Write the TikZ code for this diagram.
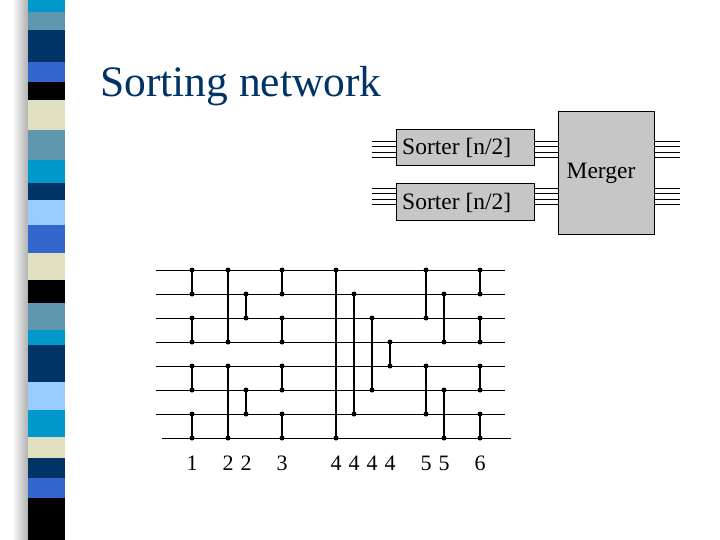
\documentclass[tikz,border=0pt]{standalone}
\usepackage{fontspec}
\setmainfont{Liberation Serif}
\begin{document}
\begin{tikzpicture}[x=1pt,y=-1pt,
  wire/.style={line width=0.9pt},
  comp/.style={line width=2.6pt},
  dot/.style={circle,fill,inner sep=0pt,minimum size=5pt},
  gbox/.style={draw,fill=gray!45,line width=0.6pt},
  thin/.style={line width=0.5pt}]
\useasboundingbox (0,0) rectangle (720,540);
\fill[white] (0,0) rectangle (720,540);
% stripe shadow
\shade[left color=white,right color=gray!70] (12,0) rectangle (30,540);
\definecolor{cC}{HTML}{0099CC}\definecolor{cS}{HTML}{5F97AF}
\definecolor{cN}{HTML}{003366}\definecolor{cB}{HTML}{3366CC}
\definecolor{cE}{HTML}{E0E0C0}\definecolor{cL}{HTML}{99CCFF}
\foreach \a/\b/\c in {0/12/cC,12/30/cS,30/62/cN,62/82/cB,82/100/black,100/130/cE,130/160/cS,160/183/cC,183/200/cN,200/225/cL,225/253/cB,253/280/cE,280/303/black,303/330/cS,330/345/cC,345/382/cN,382/410/cL,410/437/cC,437/458/cE,458/478/cN,478/498/cB,498/540/black}
  \fill[\c] (28,\a) rectangle (65,\b);
\node[anchor=base west,text=cN,font=\fontsize{43.5}{46}\selectfont,inner sep=0pt] (title) at (100,97) {Sorting network};
% sorter boxes
\node[gbox,minimum width=138pt,minimum height=36pt,anchor=north west,inner sep=0pt] (s1) at (396,129) {};
\node[anchor=west,font=\fontsize{23.5}{25}\selectfont,inner sep=0pt] (s1t) at (402,148) {Sorter [n/2]};
\node[gbox,minimum width=138pt,minimum height=37pt,anchor=north west,inner sep=0pt] (s2) at (396,183) {};
\node[anchor=west,font=\fontsize{23.5}{25}\selectfont,inner sep=0pt] (s2t) at (402,203) {Sorter [n/2]};
\node[gbox,minimum width=96pt,minimum height=123pt,anchor=north west,inner sep=0pt] (m) at (558,111) {};
\node[font=\fontsize{23.5}{25}\selectfont,inner sep=0pt] (mt) at (601,173) {Merger};
\foreach \y in {141,146.5,152,157.5,188,193.5,199,204.5}{
  \draw[thin] (372,\y) -- (396,\y);
  \draw[thin] (534,\y) -- (558,\y);
  \draw[thin] (654,\y) -- (680,\y);}
% network wires
\foreach \i in {0,...,6}{ \draw[wire] (156,{270+24*\i}) -- (505,{270+24*\i}); }
\draw[wire] (162,438) -- (511,438);
\foreach \x/\a/\b in {192/0/1,192/2/3,192/4/5,192/6/7,228/0/3,228/4/7,246/1/2,246/5/6,282/0/1,282/2/3,282/4/5,282/6/7,336/0/7,354/1/6,372/2/5,390/3/4,426/0/2,426/4/6,444/1/3,444/5/7,480/0/1,480/2/3,480/4/5,480/6/7}{
  \draw[comp] (\x,{270+24*\a}) -- (\x,{270+24*\b});
  \node[dot] at (\x,{270+24*\a}) {};
  \node[dot] at (\x,{270+24*\b}) {};}
\foreach \x/\t in {192/1,228/2,246/2,282/3,336/4,354/4,372/4,390/4,426/5,444/5,480/6}
  \node[font=\fontsize{22}{24}\selectfont,inner sep=0pt] at (\x,463) {\t};
\end{tikzpicture}
\end{document}
